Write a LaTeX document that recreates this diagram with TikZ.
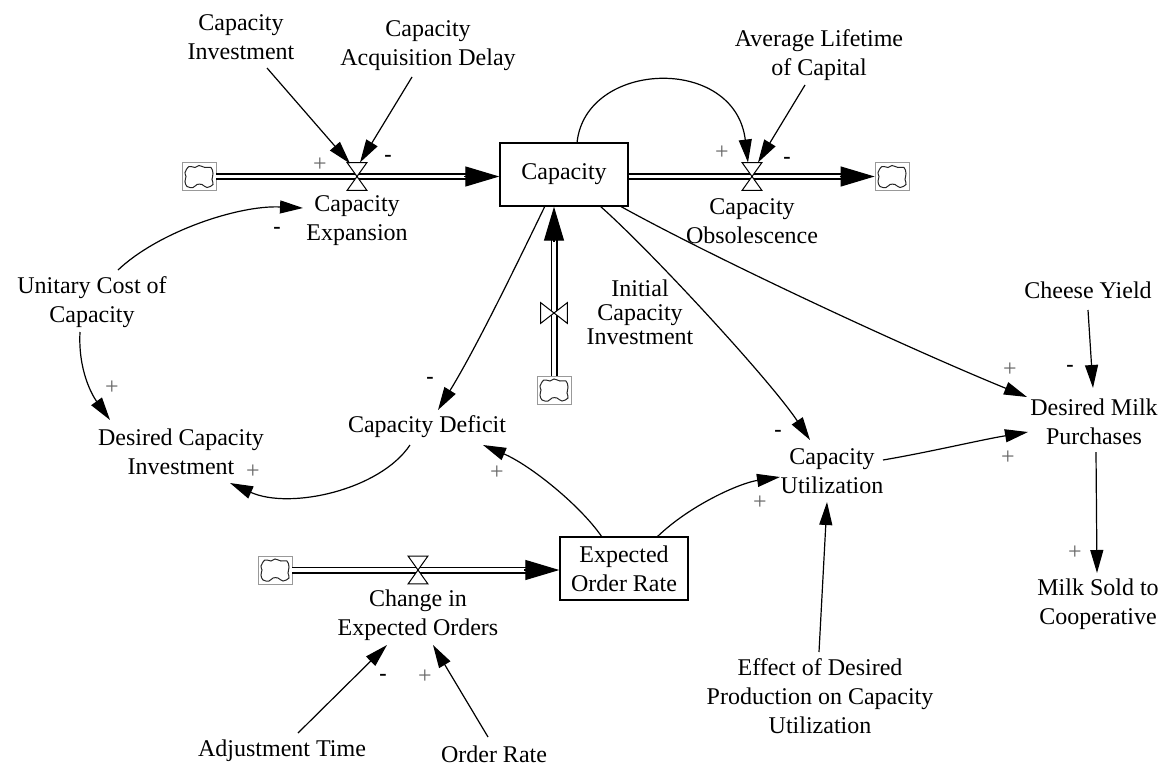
\documentclass[tikz,border=0pt]{standalone}
\usepackage{fontspec}
\setmainfont{Liberation Serif}
\usetikzlibrary{arrows.meta,calc}

\begin{document}
\begin{tikzpicture}[x=0.5pt,y=-0.5pt,
  txt/.style={align=center, inner sep=0pt, font=\fontsize{12}{14.5}\selectfont},
  stock/.style={draw, line width=0.7pt, minimum width=64pt, minimum height=31.5pt,
    inner sep=0pt, align=center, font=\fontsize{12}{14.5}\selectfont},
  valveh/.style={inner sep=0pt, minimum width=9.5pt, minimum height=13.5pt},
  valvev/.style={inner sep=0pt, minimum width=13pt, minimum height=10pt},
  valve/.style={draw, fill=white, line width=0.5pt, line join=miter},
  pipe/.style={draw, line width=0.95pt, double=white, double distance=1.6pt},
  pipetip/.style={line width=0.6pt, -{Triangle[length=17pt,width=10pt]}},
  link/.style={line width=0.6pt, -{Triangle[length=11.5pt,width=6.5pt]}},
  possign/.style={text=black!60, font=\fontsize{12}{12}\selectfont, inner sep=0pt},
  negsign/.style={font=\fontsize{11}{11}\selectfont\bfseries, inner sep=0pt},
  sink/.style={draw=black!40, line width=0.4pt, minimum width=17pt, minimum height=14pt,
    inner sep=0pt,
    path picture={\draw[black!85, line width=0.5pt, shift={(path picture bounding box.center)}]
      plot[smooth cycle, tension=0.6] coordinates {(-14,-4) (-10,-10) (-4,-9) (0,-11) (6,-9)
        (12,-9) (14,-3) (13,3) (14,8) (8,11) (3,8) (-2,8) (-6,11) (-12,10) (-14,5) (-13,0)};}}
]
\useasboundingbox (0,0) rectangle (1162,766);

% stocks
\node[stock] (cap) at (564,174.5) {Capacity};
\node[stock] (eor) at (624,568.5) {Expected\\Order Rate};

% sources and sinks
\node[sink] (cl1) at (199,176.5) {};
\node[sink] (cl2) at (892,176.5) {};
\node[sink] (cl3) at (554,390) {};
\node[sink] (cl4) at (275,570) {};

% pipes
\draw[pipe, shorten >=14pt] (cl1.east) -- (cap.west |- cl1.east);
\draw[pipetip] ($(cap.west |- cl1.east)+(-35,0)$) -- (cap.west |- cl1.east);
\draw[pipe, shorten >=14pt] (cap.east |- cl2.west) -- (cl2.west);
\draw[pipetip] ($(cl2.west)+(-35,0)$) -- (cl2.west);
\draw[pipe, shorten >=14pt] (cl3.north) -- (cap.south -| cl3.north);
\draw[pipetip] ($(cap.south -| cl3.north)+(0,35)$) -- (cap.south -| cl3.north);
\draw[pipe, shorten >=14pt] (cl4.east) -- (eor.west |- cl4.east);
\draw[pipetip] ($(eor.west |- cl4.east)+(-35,0)$) -- (eor.west |- cl4.east);

% valves
\node[valveh] (vexp) at (357,176.5) {};
\node[valveh] (vobs) at (752,176.5) {};
\node[valveh] (vchg) at (418,570) {};
\node[valvev] (vini) at (554,313) {};
\foreach \v in {vexp,vobs,vchg}
  \draw[valve] (\v.north west) -- (\v.north east) -- (\v.center) -- cycle
               (\v.south west) -- (\v.south east) -- (\v.center) -- cycle;
\draw[valve] (vini.north west) -- (vini.south west) -- (vini.center) -- cycle
             (vini.north east) -- (vini.south east) -- (vini.center) -- cycle;

% flow names
\node[txt] (lexp) at (357,221) {Capacity\\Expansion};
\node[txt] (lobs) at (752,221) {Capacity\\Obsolescence};
\node[txt] (lchg) at (418,615) {Change in\\Expected Orders};
\node[txt, font=\fontsize{12}{12}\selectfont] (lini) at (640,312) {Initial\\Capacity\\Investment};

% auxiliaries
\node[txt] (cinv) at (241,37) {Capacity\\Investment};
\node[txt] (cacq) at (428,46) {Capacity\\Acquisition Delay};
\node[txt] (alc) at (819,55) {Average Lifetime\\of Capital};
\node[txt] (ucc) at (92,302) {Unitary Cost of\\Capacity};
\node[txt] (dci) at (181,452) {Desired Capacity\\Investment};
\node[txt] (cdef) at (427,427) {Capacity Deficit};
\node[txt] (cutil) at (832,471) {Capacity\\Utilization};
\node[txt] (dmp) at (1094,422) {Desired Milk\\Purchases};
\node[txt] (cy) at (1088,290) {Cheese Yield};
\node[txt] (msc) at (1098,604) {Milk Sold to\\Cooperative};
\node[txt] (eff) at (820,696) {Effect of Desired\\Production on Capacity\\Utilization};
\node[txt] (adj) at (282,751) {Adjustment Time};
\node[txt] (ordr) at (494,754) {Order Rate};

% causal links
\draw[link] ($(cinv)+(26,31)$) -- ($(vexp)+(-7,-13)$);
\draw[link] ($(cacq)+(-16,31)$) -- ($(vexp)+(3,-14)$);
\draw[link] ($(cap)+(13,-31.5)$) .. controls +(8,-83) and +(-13,-108) .. ($(vobs)+(-4,-14)$);
\draw[link] ($(alc)+(-14,30)$) -- ($(vobs)+(6,-14)$);
\draw[link] ($(ucc)+(26,-32)$) .. controls +(40,-38) and +(-65,-3) .. ($(lexp)+(-54,-13)$);
\draw[link] ($(ucc)+(-12,30)$) .. controls +(-2,38) and +(-18,-25) .. ($(dci)+(-71,-32)$);
\draw[link] ($(cap)+(-19,31.5)$) .. controls +(-30,62) and +(37,-60) .. ($(cdef)+(11,-17)$);
\draw[link] ($(cdef)+(-17,18)$) .. controls +(-30,45) and +(60,27) .. ($(dci)+(49,31)$);
\draw[link] ($(eor)+(-22,-31.5)$) .. controls +(-22,-32) and +(47,20) .. ($(cdef)+(56,18)$);
\draw[link] ($(eor)+(33,-31.5)$) .. controls +(33,-32) and +(-40,6) .. ($(cutil)+(-52,6)$);
\draw[link] ($(cap)+(36,31.5)$) .. controls +(50,44) and +(-40,-60) .. ($(cutil)+(-22,-31)$);
\draw[link] ($(cap)+(56,31.5)$) .. controls +(90,50) and +(-127,-52) .. ($(dmp)+(-67,-25)$);
\draw[link] ($(cutil)+(51,-11)$) .. controls +(47,-8) and +(-48,8) .. ($(dmp)+(-66,10)$);
\draw[link] ($(cy)+(0,20)$) -- ($(dmp)+(-1,-34)$);
\draw[link] ($(dmp)+(2,30)$) -- ($(msc)+(-1,-31)$);
\draw[link] ($(eff)+(-1,-44)$) -- ($(cutil)+(-5,31)$);
\draw[link] ($(adj)+(16,-18)$) -- ($(lchg)+(-31,30)$);
\draw[link] ($(ordr)+(-6,-17)$) -- ($(lchg)+(15,30)$);

% link polarities
\node[possign] (s1) at (320,165) {+};
\node[negsign] (s2) at (388,158) {-};
\node[possign] (s3) at (722,153) {+};
\node[negsign] (s4) at (787,160) {-};
\node[negsign] (s5) at (277,230) {-};
\node[possign] (s6) at (112,388) {+};
\node[negsign] (s7) at (430,380) {-};
\node[possign] (s8) at (253,472) {+};
\node[possign] (s9) at (497,473) {+};
\node[possign] (s10) at (760,503) {+};
\node[negsign] (s11) at (778,433) {-};
\node[possign] (s12) at (1010,370) {+};
\node[possign] (s13) at (1008,458) {+};
\node[negsign] (s14) at (1070,368) {-};
\node[possign] (s15) at (1075,553) {+};
\node[negsign] (s16) at (383,677) {-};
\node[possign] (s17) at (425,677) {+};
\end{tikzpicture}
\end{document}
